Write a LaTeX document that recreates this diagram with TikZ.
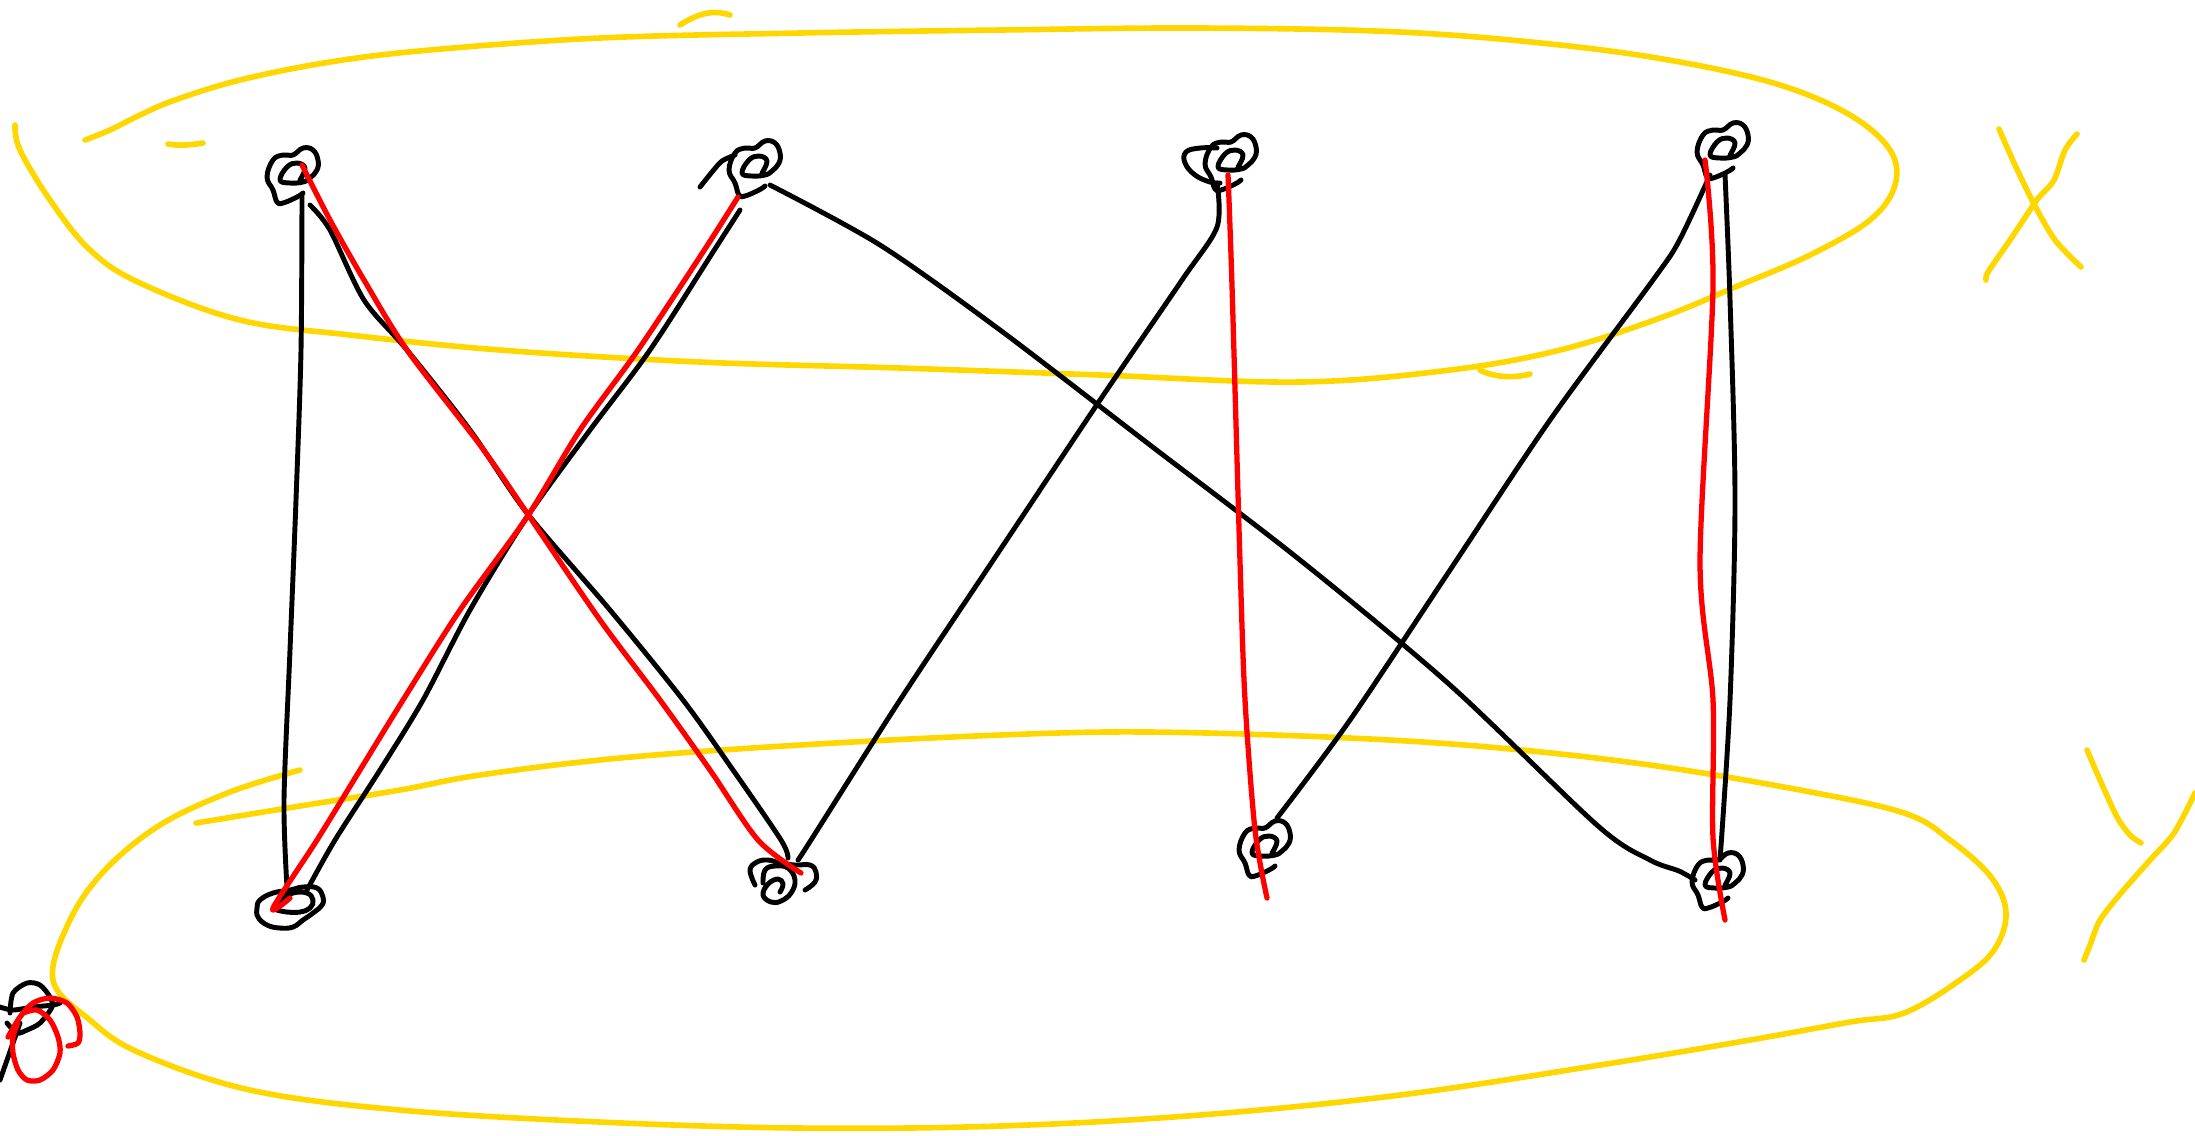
\documentclass[tikz,border=0pt]{standalone}
\usetikzlibrary{calc}
\definecolor{ylw}{HTML}{FFD700}
\definecolor{rd}{HTML}{FF0000}
\begin{document}
\begin{tikzpicture}[x=0.01cm,y=-0.01cm,line cap=round,line join=round,
  blk/.style={draw=black,line width=1.4pt},
  redl/.style={draw=rd,line width=1.5pt},
  yel/.style={draw=ylw,line width=1.6pt},
  coil/.pic={\draw[blk] plot[smooth,tension=0.7] coordinates {(13,18) (7,22) (-7,28) (-13,27) (-17,15) (-23,2) (-17,-15) (-7,-20) (3,-20) (13,-27) (23,-25) (28,-15) (27,-5) (20,3) (13,7) (0,8) (-10,5) (-3,-8) (7,-12) (15,-7) (10,5)};}]
\useasboundingbox (0,0) rectangle (2195,1135);
% ---------- yellow loops ----------
\draw[yel] plot[smooth,tension=0.6] coordinates {(85,140) (110,130) (140,115) (175,100) (240,80) (330,62) (430,50) (600,38) (800,33) (1000,30) (1200,28) (1400,32) (1560,45) (1680,62) (1780,85) (1850,115) (1890,150) (1895,185) (1870,220) (1810,255) (1740,285) (1660,318) (1560,350) (1450,370) (1300,382) (1100,375) (900,368) (700,362) (500,350) (350,335) (240,320) (140,283) (90,250) (50,200) (20,150) (15,125)};
\draw[yel] (168,144) .. controls (180,146) and (190,145) .. (203,143);
\draw[yel] (680,25) .. controls (700,12) and (715,10) .. (730,15);
\draw[yel] (1480,370) .. controls (1495,378) and (1515,378) .. (1530,374);
\draw[yel] plot[smooth,tension=0.6] coordinates {(300,770) (230,792) (160,825) (105,870) (70,920) (53,980) (90,1020) (140,1053) (250,1090) (400,1110) (600,1122) (800,1128) (1000,1126) (1200,1115) (1400,1095) (1600,1065) (1750,1040) (1850,1022) (1904,1013) (1960,980) (1994,950) (2006,913) (1991,877) (1950,840) (1904,813) (1800,790) (1650,765) (1500,748) (1350,738) (1150,732) (1000,735) (800,745) (620,758) (480,775) (400,790) (300,806) (196,823)};
% X and Y
\draw[yel] plot[smooth] coordinates {(1999,129) (2015,165) (2034,204) (2055,240) (2081,267)};
\draw[yel] plot[smooth] coordinates {(2077,134) (2065,150) (2054,180) (2040,196) (2034,204) (2010,240) (1988,272) (1986,280)};
\draw[yel] plot[smooth] coordinates {(2087,750) (2100,780) (2117,817) (2130,835) (2141,843)};
\draw[yel] plot[smooth] coordinates {(2195,793) (2174,833) (2150,860) (2121,893) (2100,920) (2090,945) (2084,960)};
% ---------- nodes ----------
\coordinate (t1) at (290,175);
\coordinate (t2) at (752,168);
\coordinate (t3) at (1228,162);
\coordinate (t4) at (1720,150);
\coordinate (b1) at (290,905);
\coordinate (b2) at (780,885);
\coordinate (b3) at (1262,848);
\coordinate (b4) at (1715,880);
\foreach \n in {t1,t2,t3,t4,b3,b4} \pic at (\n) {coil};
% extra strokes of the top coils
\draw[blk] plot[smooth] coordinates {(700,187) (712,172) (722,161) (735,155)};
\draw[blk] plot[smooth,tension=0.7] coordinates {(1217,148) (1200,148) (1186,152) (1185,163) (1195,175) (1210,182) (1220,183)};
% B1 coil (ellipse with inner loop)
\draw[blk] plot[smooth cycle,tension=0.7] coordinates {(260,900) (273,893) (290,890) (303,887) (317,888) (323,897) (322,905) (313,913) (303,920) (293,927) (280,928) (267,925) (258,917) (257,908)};
\draw[blk] plot[smooth,tension=0.7] coordinates {(277,910) (280,900) (293,893) (307,893) (313,900) (310,908) (300,912) (287,912) (277,910)};
% B2 coil (spiral with outer arcs)
\draw[blk] plot[smooth,tension=0.7] coordinates {(755,885) (750,870) (757,862) (768,860) (780,863) (795,865) (810,865) (816,872) (815,882) (805,890)};
\draw[blk] plot[smooth,tension=0.7] coordinates {(763,883) (765,870) (775,866) (788,868) (795,880) (791,893) (781,901) (771,902) (763,895) (768,884) (778,879) (783,884) (780,892)};
% ---------- black edges ----------
\draw[blk] plot[smooth] coordinates {($(t1)+(12,20)$) (301,350) (296,500) (290,650) (284,800) ($(b1)+(-3,-18)$)};
\draw[blk] plot[smooth] coordinates {($(t1)+(20,30)$) (330,230) (364,300) (407,350) (470,430) (527,513) (610,610) (683,700) (733,770) (781,840) ($(b2)+(8,-27)$)};
\draw[blk] plot[smooth] coordinates {($(t2)+(-12,42)$) (713,252) (650,350) (590,430) (527,517) (470,610) (423,700) (380,770) (335,840) ($(b1)+(17,-15)$)};
\draw[blk] plot[smooth] coordinates {($(t2)+(18,17)$) (880,245) (1000,330) (1150,445) (1300,560) (1450,685) (1598,826) (1650,860) (1679,871) ($(b4)+(-20,0)$)};
\draw[blk] plot[smooth] coordinates {($(t3)+(-11,21)$) (1217,227) (1182,280) (1100,400) (1000,550) (900,700) (811,840) ($(b2)+(18,-25)$)};
\draw[blk] plot[smooth] coordinates {($(t4)+(-10,25)$) (1679,241) (1653,280) (1550,420) (1450,570) (1350,720) ($(b3)+(15,-30)$)};
\draw[blk] plot[smooth] coordinates {($(t4)+(5,25)$) (1730,300) (1735,500) (1730,700) ($(b4)+(5,-20)$)};
% ---------- red edges ----------
\draw[redl] plot[smooth] coordinates {($(t1)+(12,-10)$) (330,220) (364,280) (407,350) (480,445) (527,513) (600,620) (660,700) (710,770) (758,840) ($(b2)+(21,-12)$)};
\draw[redl] plot[smooth] coordinates {($(t2)+(-14,29)$) (703,252) (638,350) (580,430) (527,517) (460,610) (403,700) (360,770) (317,840) ($(b1)+(-17,3)$) (290,898)};
\draw[redl] plot[smooth] coordinates {($(t3)+(0,13)$) (1232,286) (1240,562) (1245,700) (1255,830) ($(b3)+(5,50)$)};
\draw[redl] plot[smooth] coordinates {($(t4)+(-15,10)$) (1713,286) (1700,562) (1713,700) (1713,838) ($(b4)+(10,40)$)};
% ---------- bottom-left partial node ----------
\draw[blk] plot[smooth] coordinates {(0,1007) (13,1010) (33,1007) (53,1005) (60,1003)};
\draw[blk] plot[smooth] coordinates {(10,1013) (13,993) (27,983) (40,985) (50,997) (52,1007) (40,1023) (27,1030) (17,1033) (7,1023)};
\draw[blk] (0,1080) -- (20,1023);
\draw[redl] plot[smooth] coordinates {(8,1037) (20,1017) (33,1003) (50,998) (67,1003) (77,1017) (80,1033) (78,1043) (68,1046)};
\draw[redl] plot[smooth] coordinates {(23,1013) (37,1010) (50,1020) (58,1037) (60,1053) (53,1070) (40,1080) (27,1080) (18,1070) (13,1053) (13,1037) (18,1023)};
\end{tikzpicture}
\end{document}
